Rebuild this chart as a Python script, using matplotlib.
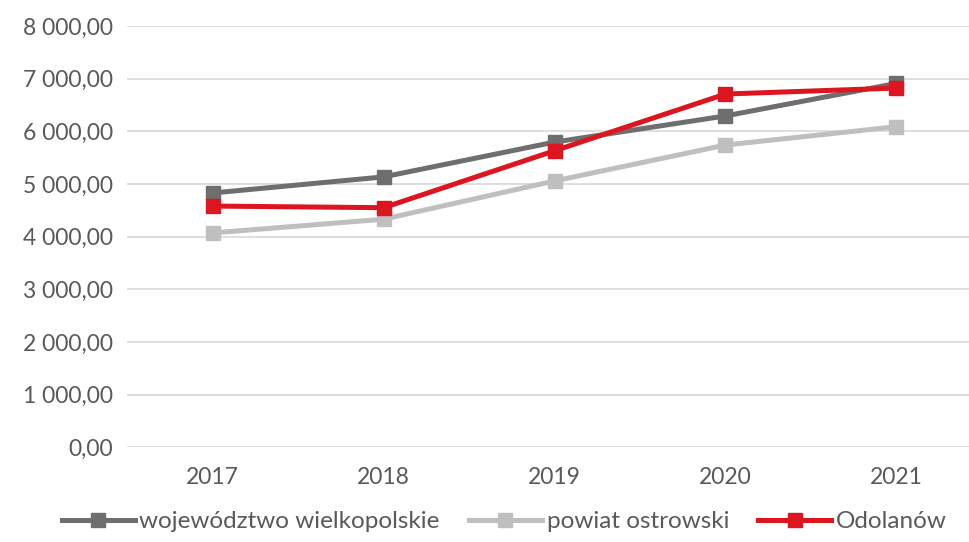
import numpy as np
import matplotlib.pyplot as plt

plt.rcParams['font.family'] = ['Lato', 'DejaVu Sans']

years = ['2017', '2018', '2019', '2020', '2021']
wojewodztwo = [4828, 5134, 5795, 6292, 6910]
powiat = [4069, 4330, 5057, 5739, 6088]
odolanow = [4580, 4549, 5630, 6708, 6822]

series = [
    (wojewodztwo, 'województwo wielkopolskie', '#6e6e6e'),
    (powiat, 'powiat ostrowski', '#bfbfbf'),
    (odolanow, 'Odolanów', '#dc151e'),
]

fig = plt.figure(figsize=(9.7, 5.42), dpi=100)
ax = fig.add_axes([0.131, 0.175, 0.869, 0.777])

x = np.arange(len(years))
for vals, name, col in series:
    ax.plot(x, vals, color=col, linewidth=3.6, marker='s', markersize=10,
            label=name, solid_joinstyle='round')

ax.set_xlim(-0.5, 4.43)
ax.set_ylim(0, 8000)
ax.set_yticks(np.arange(0, 8001, 1000))
ax.set_yticklabels([f'{int(v):,}'.replace(',', ' ') + ',00' for v in np.arange(0, 8001, 1000)])
ax.set_xticks(x)
ax.set_xticklabels(years)
ax.grid(axis='y', color='#d9d9d9', linewidth=1.2)
ax.set_axisbelow(True)
for s in ax.spines.values():
    s.set_visible(False)
ax.tick_params(length=0, labelsize=16.5, colors='#595959', pad=10)
ax.tick_params(axis='x', pad=14)

fig.legend(loc='lower center', bbox_to_anchor=(0.52, -0.022), ncol=3, frameon=False,
           fontsize=17.5, labelcolor='#595959', handlelength=3.0, handletextpad=0.2,
           columnspacing=1.2)

fig.savefig('out.png', dpi=100)
